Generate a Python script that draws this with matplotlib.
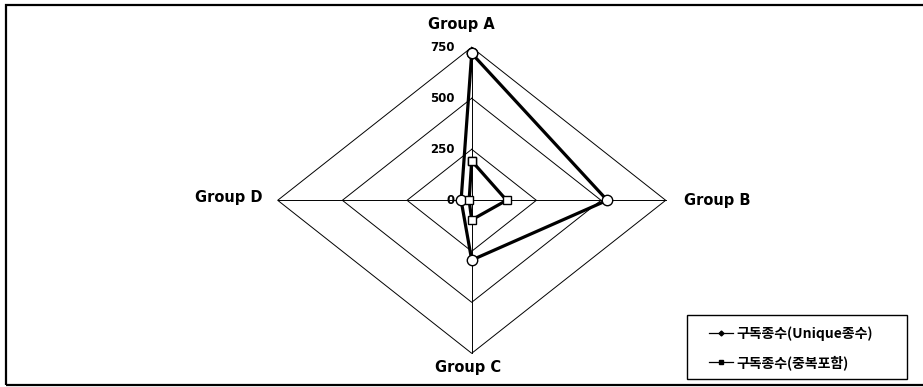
import numpy as np
import matplotlib.pyplot as plt
from matplotlib.lines import Line2D
from matplotlib.patches import Rectangle

# 데이터
categories = ["Group A", "Group B", "Group C", "Group D"]
angles_deg = [90, 0, -90, 180]
unique_vals = [720, 524, 293, 41]      # 구독종수(Unique종수)
dup_vals = [193, 135, 96, 10]          # 구독종수(중복포함)
ring_vals = [250, 500, 750]
ring_labels = ["250", "500", "750"]
series_names = ["구독종수(Unique종수)", "구독종수(중복포함)"]

W, H = 923, 387
fig = plt.figure(figsize=(W / 100, H / 100), dpi=100)

# 축 배치: 중심 (471.7, 200.3) px, 750 -> 가로 194px, 세로 153px
R = 900.0
cx, cy = 471.7, 200.3
ax_w = 2 * 194 * R / 750
ax_h = 2 * 153 * R / 750
ax = fig.add_axes([(cx - ax_w / 2) / W, (H - cy - ax_h / 2) / H, ax_w / W, ax_h / H])
ax.set_xlim(-R, R)
ax.set_ylim(-R, R)
ax.axis("off")

ang = np.deg2rad(angles_deg)
cosv, sinv = np.cos(ang), np.sin(ang)

# 그리드 (다이아몬드)
for r in ring_vals:
    xs = np.append(r * cosv, r * cosv[0])
    ys = np.append(r * sinv, r * sinv[0])
    ax.plot(xs, ys, color="black", lw=0.7, zorder=1)
for c, s in zip(cosv, sinv):
    ax.plot([0, 750 * c], [0, 750 * s], color="black", lw=0.7, zorder=1)

# 눈금 라벨
tick_kw = dict(ha="right", va="center", fontsize=8.5, fontweight="bold", family="DejaVu Sans")
ax.text(-R * 17 / (ax_w / 2), 0, "0", **tick_kw)
for r, lab in zip(ring_vals, ring_labels):
    ax.text(-R * 17 / (ax_w / 2), r, lab, **tick_kw)

# 카테고리 라벨
lab_kw = dict(fontsize=10.5, fontweight="bold", family="DejaVu Sans")
ax.text(-41, 864, categories[0], ha="center", va="center", **lab_kw)
ax.text(750 + 70, 0, categories[1], ha="left", va="center", **lab_kw)
ax.text(-14, -822, categories[2], ha="center", va="center", **lab_kw)
ax.text(-750 - 60, 15, categories[3], ha="right", va="center", **lab_kw)

# 데이터 시리즈
def closed(vals):
    v = np.array(vals, dtype=float)
    xs = v * cosv
    ys = v * sinv
    return np.append(xs, xs[0]), np.append(ys, ys[0])

x1, y1 = closed(unique_vals)
ax.plot(x1, y1, color="black", lw=2.3, marker="o", ms=7.5, mfc="white", mec="black", mew=1.0, zorder=3)
x2, y2 = closed(dup_vals)
ax.plot(x2, y2, color="black", lw=2.3, marker="s", ms=6, mfc="white", mec="black", mew=1.0, zorder=4)

# 범례
handles = [
    Line2D([], [], color="black", lw=0.9, marker="D", ms=2.5),
    Line2D([], [], color="black", lw=0.9, marker="s", ms=2.5),
]
leg = fig.legend(handles, series_names, loc="center left",
                 bbox_to_anchor=(709 / W, 1 - 348 / H),
                 frameon=False,
                 prop={"family": ["Noto Sans CJK KR", "DejaVu Sans"], "size": 10, "weight": "bold"},
                 handlelength=1.7, handletextpad=0.3, labelspacing=1.0,
                 borderpad=0, borderaxespad=0)
fig.patches.append(Rectangle((687 / W, 1 - 379 / H), 220 / W, 64 / H, transform=fig.transFigure,
                             fill=False, edgecolor="black", lw=1.0))

# 바깥 테두리
fig.patches.append(Rectangle((6 / W, 2 / H), 1.2, 380 / H, transform=fig.transFigure,
                             fill=False, edgecolor="black", lw=1.6))

fig.savefig("out.png", dpi=100, facecolor="white")
